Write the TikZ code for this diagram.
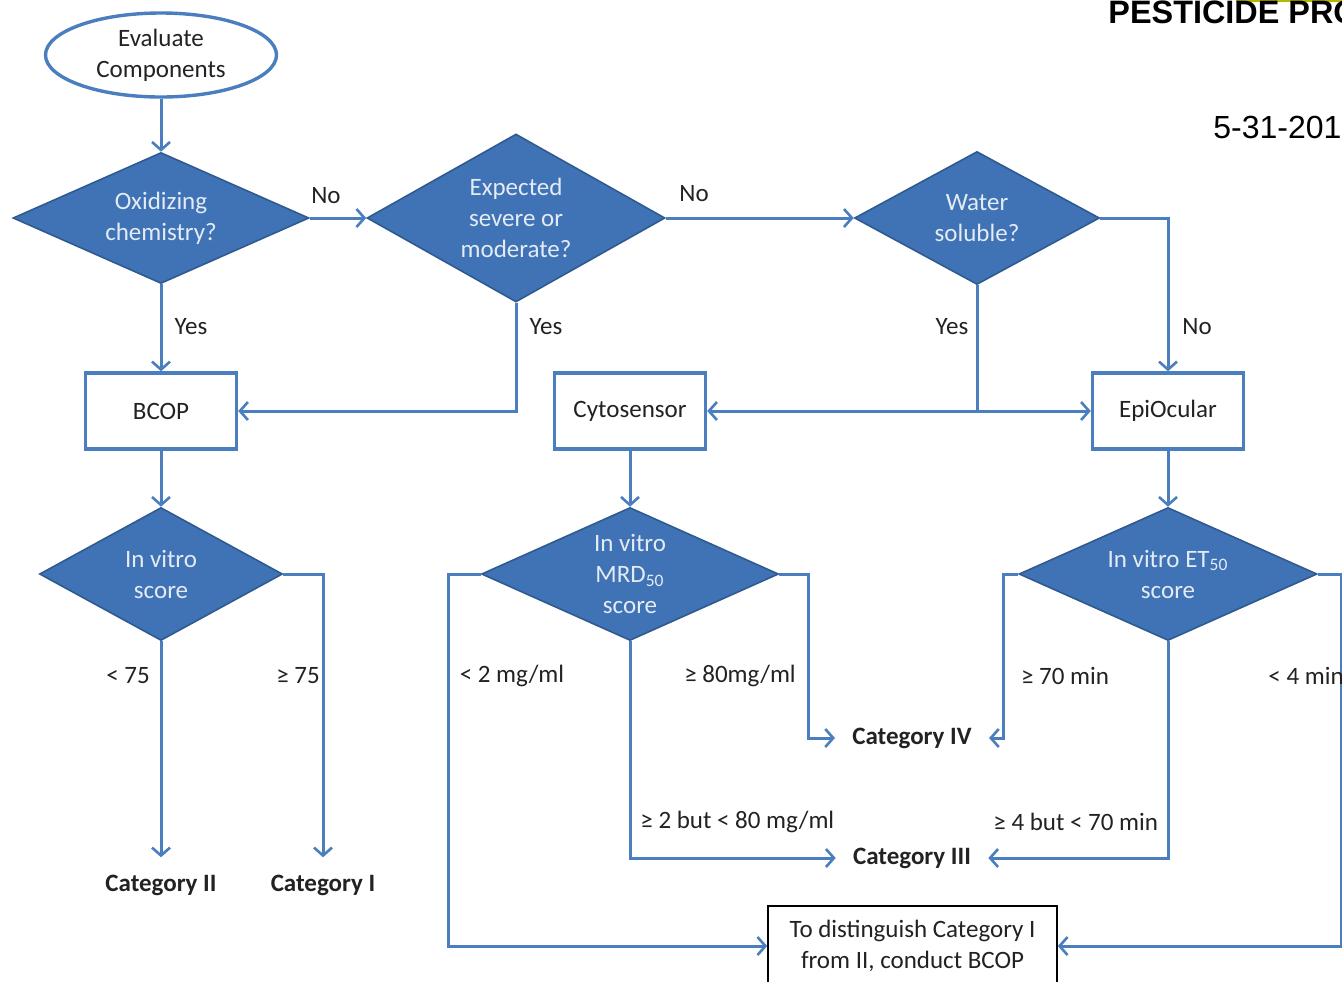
\documentclass[tikz,border=0pt]{standalone}
\usepackage{fontspec}
\setmainfont{Carlito}
\newfontfamily\arialfont{Liberation Sans}
\usetikzlibrary{shapes.geometric,arrows.meta}
\definecolor{dfill}{HTML}{3F73B5}
\definecolor{dedge}{HTML}{2F5A8F}
\definecolor{lblue}{HTML}{4A7EBF}
\definecolor{dtxt}{HTML}{E4EBF5}
\definecolor{tblack}{HTML}{222222}
\definecolor{olivebar}{HTML}{B4B800}
\begin{document}
\begin{tikzpicture}[x=0.5pt,y=-0.5pt,
  every node/.style={font=\fontsize{12.5}{15.5}\selectfont},
  dia/.style={diamond, draw=dedge, line width=0.8pt, fill=dfill, inner sep=0pt, aspect=2},
  dtext/.style={text=dtxt, align=center, inner sep=0pt},
  box/.style={rectangle, draw=lblue, line width=1.7pt, fill=white, minimum width=75.5pt, minimum height=38pt, text=tblack},
  conn/.style={draw=lblue, line width=1.5pt},
  arr/.style={conn, -{Straight Barb[length=4pt,width=9pt,line width=1.3pt]}},
  lab/.style={text=tblack, inner sep=0pt},
  cat/.style={text=tblack, inner sep=8.5pt, font=\fontsize{12.5}{15.5}\selectfont\bfseries},
]
\useasboundingbox (0,0) rectangle (1342,981);
\clip (0,0) rectangle (1342,981);

% header texts
\draw[olivebar, line width=2pt] (1236,0) -- (1342,0);
\node[anchor=base west, inner sep=0pt, font=\arialfont\bfseries\fontsize{16.2}{18}\selectfont] (title) at (1108,23) {PESTICIDE PRO};
\node[anchor=base west, inner sep=0pt, font=\arialfont\fontsize{16}{18}\selectfont] (date) at (1213,138) {5-31-201};

% start
\node[ellipse, draw=lblue, line width=1.7pt, fill=white, minimum width=115.5pt, minimum height=42pt, inner sep=0pt, align=center, text=tblack] (ev) at (161,55) {Evaluate\\Components};

% diamonds
\node[dia, minimum width=148pt, minimum height=65.5pt] (d1) at (161,218) {};
\node[dtext] at (d1) {Oxidizing\\chemistry?};
\node[dia, minimum width=149pt, minimum height=84pt] (d2) at (516,218) {};
\node[dtext] at (d2) {Expected\\severe or\\moderate?};
\node[dia, minimum width=122.5pt, minimum height=66.5pt] (d3) at (977,218) {};
\node[dtext] at (d3) {Water\\soluble?};
\node[dia, minimum width=121.5pt, minimum height=66.5pt] (d4) at (161,574) {};
\node[dtext] at (d4) {In vitro\\score};
\node[dia, minimum width=148.5pt, minimum height=66.5pt] (d5) at (630,574) {};
\node[dtext] at (d5) {In vitro\\MRD\textsubscript{50}\\score};
\node[dia, minimum width=149pt, minimum height=66.5pt] (d6) at (1168,574) {};
\node[dtext] at (d6) {In vitro ET\textsubscript{50}\\score};

% boxes
\node[box] (bcop) at (161,411) {BCOP};
\node[box] (cyto) at (630,411) {Cytosensor};
\node[box] (epi) at (1168,411) {EpiOcular};

% categories
\node[cat] (cat2) at (161,885) {Category II};
\node[cat] (cat1) at (323,885) {Category I};
\node[cat] (cat4) at (912,738) {Category IV};
\node[cat] (cat3) at (912,858) {Category III};

% bottom note
\node[rectangle, draw=black, line width=0.8pt, fill=white, minimum width=144.5pt, minimum height=40pt, align=center, text=tblack] (note) at (912.5,946) {To distinguish Category I\\from II, conduct BCOP};

% bend points
\coordinate (j) at (977,411);
\coordinate (c5l) at (448,574);
\coordinate (c5r) at (808,574);
\coordinate (c6l) at (1003,574);
\coordinate (c6r) at (1341,574);

% connectors
\draw[arr] (ev.south) -- (d1.north);
\draw[arr] (d1.east) -- (d2.west);
\draw[arr] (d2.east) -- (d3.west);
\draw[arr] (d1.south) -- (bcop.north);
\draw[arr] (d2.south) |- (bcop.east);
\draw[arr] (d3.east) -| (epi.north);
\draw[conn] (d3.south) -- (j);
\draw[arr] (j) -- (cyto.east);
\draw[arr] (j) -- (epi.west);
\draw[arr] (bcop.south) -- (d4.north);
\draw[arr] (cyto.south) -- (d5.north);
\draw[arr] (epi.south) -- (d6.north);
\draw[arr] (d4.south) -- (cat2.north);
\draw[arr] (d4.east) -| (cat1.north);
\draw[arr] (d5.west) -- (c5l) |- (note.west);
\draw[arr] (d5.east) -- (c5r) |- (cat4.west);
\draw[arr] (d5.south) |- (cat3.west);
\draw[arr] (d6.west) -- (c6l) |- (cat4.east);
\draw[arr] (d6.south) |- (cat3.east);
\draw[arr] (d6.east) -- (c6r) |- (note.east);

% labels
\node[lab] (l1) at (326,196) {No};
\node[lab] (l2) at (694,194) {No};
\node[lab] (l3) at (191,327) {Yes};
\node[lab] (l4) at (546,327) {Yes};
\node[lab] (l5) at (952,327) {Yes};
\node[lab] (l6) at (1197,327) {No};
\node[lab] (l7) at (128,676) {< 75};
\node[lab] (l8) at (298,676) {≥ 75};
\node[lab] (l9) at (512,676) {< 2 mg/ml};
\node[lab] (l10) at (740,676) {≥ 80mg/ml};
\node[lab] (l11) at (1065,676) {≥ 70 min};
\node[lab, anchor=west] (l12) at (1268,676) {< 4 min};
\node[lab, anchor=west] (l13) at (640,822) {≥ 2 but < 80 mg/ml};
\node[lab, anchor=west] (l14) at (993,822) {≥ 4 but < 70 min};
\end{tikzpicture}
\end{document}
